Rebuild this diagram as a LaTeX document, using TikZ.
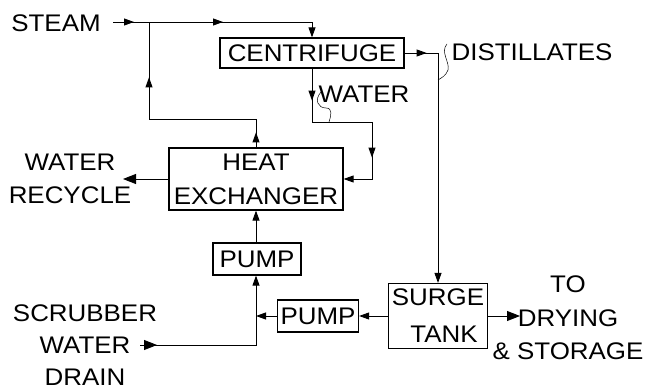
\documentclass[tikz,border=0pt]{standalone}
\usepackage{fontspec}
\setmainfont{Liberation Sans}[FakeStretch=1.08]
\usetikzlibrary{arrows.meta,decorations.markings}
\begin{document}
\begin{tikzpicture}[x=1pt,y=-1pt,
  lbl/.style={font=\fontsize{24}{33.5}\selectfont, inner sep=0pt, align=center},
  box/.style={draw, line width=1.2pt, font=\fontsize{24}{34}\selectfont, inner sep=0pt, align=center},
  flow/.style={line width=0.9pt},
  tip/.style={-{Triangle[length=10pt,width=7pt]}},
  bigtip/.style={-{Triangle[length=13pt,width=10pt]}},
  am/.style={postaction={decorate, decoration={markings, mark=at position #1 with {\arrow{Triangle[length=10pt,width=7pt]}}}}},
  bigam/.style={postaction={decorate, decoration={markings, mark=at position #1 with {\arrow{Triangle[length=13pt,width=10pt]}}}}},
  lead/.style={line width=0.5pt}
]
\useasboundingbox (0,0) rectangle (647,390);

% boxes
\node[box, minimum width=184pt, minimum height=30pt] (cent) at (312,53) {CENTRIFUGE};
\node[box, minimum width=174pt, minimum height=62pt] (hx) at (256,179) {HEAT\\EXCHANGER};
\node[box, minimum width=88pt, minimum height=32pt] (pump1) at (257,259) {PUMP};
\node[box, minimum width=81pt, minimum height=32pt] (pump2) at (318,316) {PUMP};
\node[box, minimum width=99pt, minimum height=65pt, font=\fontsize{24}{37}\selectfont] (surge) at (438,316) {SURGE\\\hspace*{12pt}TANK};

% labels
\node[lbl] (steam) at (56,23) {STEAM};
\node[lbl] (dist) at (532,52) {DISTILLATES};
\node[lbl] (water) at (364,94) {WATER};
\node[lbl, font=\fontsize{24}{33}\selectfont] (wr) at (70,179) {WATER\\RECYCLE};
\node[lbl, font=\fontsize{24}{32}\selectfont] (scr) at (85,345) {SCRUBBER\\WATER\\DRAIN};
\node[lbl] (dry) at (568,318) {TO\\DRYING\\\& STORAGE};

% free ends
\coordinate (s0) at (113,22);
\coordinate (j1) at (149,22);
\coordinate (wrt) at (123,179);
\coordinate (sw) at (140,345);
\coordinate (dryt) at (520,316);

% steam line
\draw[flow, tip, am=21pt, am=110pt] (s0) -- (s0 -| cent.north) -- (cent.north);
% recycle loop from heat exchanger to steam line
\draw[flow, am=15pt, am=177pt] (hx.north) -- (hx.north |- 0,119) -| (j1);
% water from centrifuge to heat exchanger
\draw[flow, tip, am=32pt, am=149pt] (cent.south) -- (cent.south |- 0,122) -- (372,122) |- (hx.east);
% distillates to surge tank
\draw[flow, tip, am=22pt] (cent.east) -- (surge.north |- cent.east) -- (surge.north);
% water recycle
\draw[flow, bigtip] (hx.west) -- (wrt);
% pump to heat exchanger
\draw[flow, tip] (hx.south |- pump1.north) -- (hx.south);
% scrubber water
\draw[flow, tip, bigam=17pt] (sw) -- (sw -| hx.south) -- (hx.south |- pump1.south);
% pump2 to line
\draw[flow, tip] (pump2.west) -- (pump2.west -| hx.south);
% surge to pump2
\draw[flow, tip] (surge.west) -- (pump2.east);
% surge to drying
\draw[flow, bigtip] (surge.east) -- (dryt);

% leader squiggles
\draw[lead] (447,44) .. controls (440,52) and (450,62) .. (448,70) .. controls (446,76) and (441,78) .. (438,80);
\draw[lead] (321,92) .. controls (314,100) and (318,108) .. (326,108) .. controls (333,108) and (331,116) .. (329,122);
\end{tikzpicture}
\end{document}
